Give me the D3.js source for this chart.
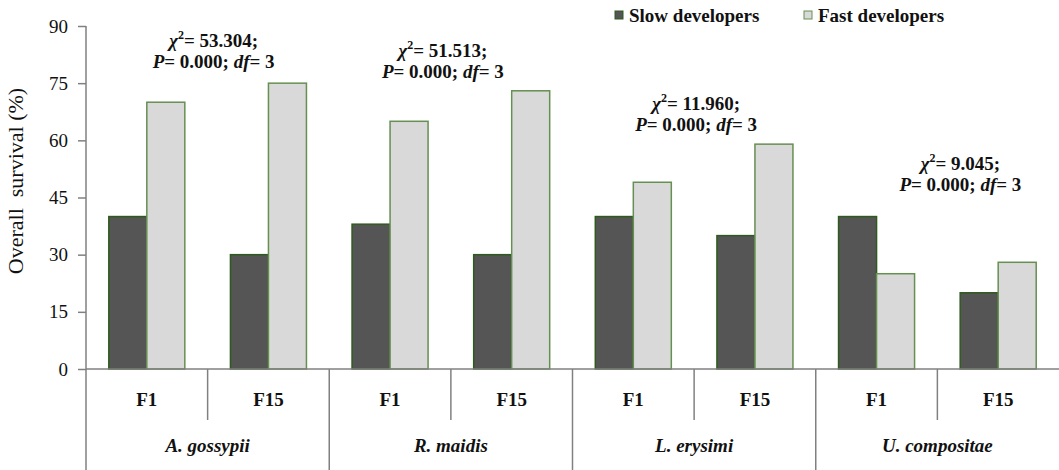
<!DOCTYPE html>
<html>
<head>
<meta charset="utf-8">
<script src="https://cdn.jsdelivr.net/npm/d3@7"></script>
</head>
<body style="margin:0;padding:0;background:#fff">
<svg id="chart" width="1059" height="470" style="display:block"></svg>
<script>
// Aphid species (outer categories) and generations (inner categories)
const species = ["A. gossypii", "R. maidis", "L. erysimi", "U. compositae"];
const generations = ["F1", "F15"];

// Overall survival (%) per species × generation
const slowDevelopers = [40, 30, 38, 30, 40, 35, 40, 20];
const fastDevelopers = [70, 75, 65, 73, 49, 59, 25, 28];

const seriesNames = ["Slow developers", "Fast developers"];
const yTicks = [0, 15, 30, 45, 60, 75, 90];

// Chi-square statistics per species
const chiValues = ["53.304", "51.513", "11.960", "9.045"];
const pValues = ["0.000", "0.000", "0.000", "0.000"];
const dfValues = ["3", "3", "3", "3"];

// Annotation placement: horizontal offset from the species centre and first-line baseline (px)
const annotDx = [6, -8, 2, 23];
const annotY = [47, 57, 110, 170];

const W = 1059, H = 470;
const margin = { left: 86, right: 0, top: 26, bottom: 101 };
const svg = d3.select("#chart");
const serif = '"Liberation Serif"';
const ink = "#111";

const rows = [];
species.forEach((s, i) => generations.forEach((g, j) => {
  const k = i * generations.length + j;
  rows.push({ key: s + "|" + g, species: s, gen: g, slow: slowDevelopers[k], fast: fastDevelopers[k] });
}));

const x0 = d3.scaleBand().domain(rows.map(d => d.key)).range([margin.left, W - margin.right]).paddingInner(0).paddingOuter(0);
const xs = d3.scaleBand().domain(["slow", "fast"]).range([0, x0.bandwidth()]).paddingInner(0).paddingOuter(0.6);
const y = d3.scaleLinear().domain([0, 90]).range([H - margin.bottom, margin.top]);
const y0 = y(0);

const colors = {
  slow: { fill: "#555555", stroke: "#2f5a1e" },
  fast: { fill: "#d9d9d9", stroke: "#668f52" }
};
const axisColor = "#808080";

// Y axis
const yAxis = svg.append("g")
  .attr("transform", `translate(${margin.left},0)`)
  .call(d3.axisLeft(y).tickValues(yTicks).tickSize(8).tickPadding(10).tickFormat(d3.format("d")));
yAxis.attr("font-family", null).attr("font-size", null);
yAxis.select(".domain").attr("stroke", axisColor).attr("stroke-width", 1.5).attr("d", `M0,${y(90)}V${H}`);
yAxis.selectAll(".tick line").attr("stroke", axisColor).attr("stroke-width", 1.5);
yAxis.selectAll(".tick text")
  .style("font-family", serif).style("font-size", "19px").attr("fill", ink);

// Y axis title
svg.append("text")
  .attr("transform", "translate(23,181) rotate(-90)")
  .attr("text-anchor", "middle")
  .style("font-family", serif).style("font-size", "22px").style("white-space", "pre")
  .attr("fill", ink)
  .text("Overall  survival (%)");

// Bars
const groups = svg.append("g").selectAll("g").data(rows).join("g")
  .attr("transform", d => `translate(${x0(d.key)},0)`);
groups.selectAll("rect").data(d => ["slow", "fast"].map(k => ({ k, v: d[k] }))).join("rect")
  .attr("x", d => xs(d.k))
  .attr("y", d => y(d.v))
  .attr("width", xs.bandwidth())
  .attr("height", d => y0 - y(d.v))
  .attr("fill", d => colors[d.k].fill)
  .attr("stroke", d => colors[d.k].stroke)
  .attr("stroke-width", 1.5);

// X axis baseline
svg.append("line")
  .attr("x1", margin.left).attr("x2", W)
  .attr("y1", y0).attr("y2", y0)
  .attr("stroke", axisColor).attr("stroke-width", 1.5);

// Category separators: short between generations, long between species
rows.forEach((d, i) => {
  if (i === 0) return;
  const isSpeciesEdge = i % generations.length === 0;
  svg.append("line")
    .attr("x1", x0(d.key)).attr("x2", x0(d.key))
    .attr("y1", y0).attr("y2", isSpeciesEdge ? H : y0 + 51)
    .attr("stroke", axisColor).attr("stroke-width", 1.5);
});

// Generation labels
svg.append("g").selectAll("text").data(rows).join("text")
  .attr("x", d => x0(d.key) + x0.bandwidth() / 2)
  .attr("y", y0 + 37)
  .attr("text-anchor", "middle")
  .style("font-family", serif).style("font-size", "19px").style("font-weight", "bold")
  .attr("fill", ink)
  .text(d => d.gen);

// Species labels
const speciesCenter = s => {
  const keys = generations.map(g => s + "|" + g);
  return (x0(keys[0]) + x0(keys[keys.length - 1]) + x0.bandwidth()) / 2;
};
svg.append("g").selectAll("text").data(species).join("text")
  .attr("x", d => speciesCenter(d))
  .attr("y", y0 + 83)
  .attr("text-anchor", "middle")
  .style("font-family", serif).style("font-size", "19px")
  .style("font-weight", "bold").style("font-style", "italic")
  .attr("fill", ink)
  .text(d => d);

// Chi-square annotations
species.forEach((s, i) => {
  const cx = speciesCenter(s) + annotDx[i];
  const g = svg.append("g");
  const t1 = g.append("text").attr("x", cx).attr("y", annotY[i]).attr("text-anchor", "middle")
    .style("font-family", serif).style("font-size", "19px").style("font-weight", "bold").attr("fill", ink);
  t1.append("tspan").style("font-style", "italic").text("χ");
  t1.append("tspan").style("font-size", "12px").attr("dy", -8).text("2");
  t1.append("tspan").attr("dy", 8).text("= " + chiValues[i] + ";");
  const t2 = g.append("text").attr("x", cx).attr("y", annotY[i] + 21).attr("text-anchor", "middle")
    .style("font-family", serif).style("font-size", "19px").style("font-weight", "bold").attr("fill", ink);
  t2.append("tspan").style("font-style", "italic").text("P");
  t2.append("tspan").text("= " + pValues[i] + "; ");
  t2.append("tspan").style("font-style", "italic").text("df");
  t2.append("tspan").text("= " + dfValues[i]);
});

// Legend
const legendX = [615, 804];
const legend = svg.append("g").selectAll("g").data(["slow", "fast"]).join("g")
  .attr("transform", (d, i) => `translate(${legendX[i]},11)`);
legend.append("rect")
  .attr("width", 8).attr("height", 8)
  .attr("fill", d => colors[d].fill)
  .attr("stroke", d => colors[d].stroke)
  .attr("stroke-width", 1);
legend.append("text")
  .attr("x", 14).attr("y", 11)
  .style("font-family", serif).style("font-size", "19px").style("font-weight", "bold")
  .attr("fill", ink)
  .text((d, i) => seriesNames[i]);
</script>
</body>
</html>
